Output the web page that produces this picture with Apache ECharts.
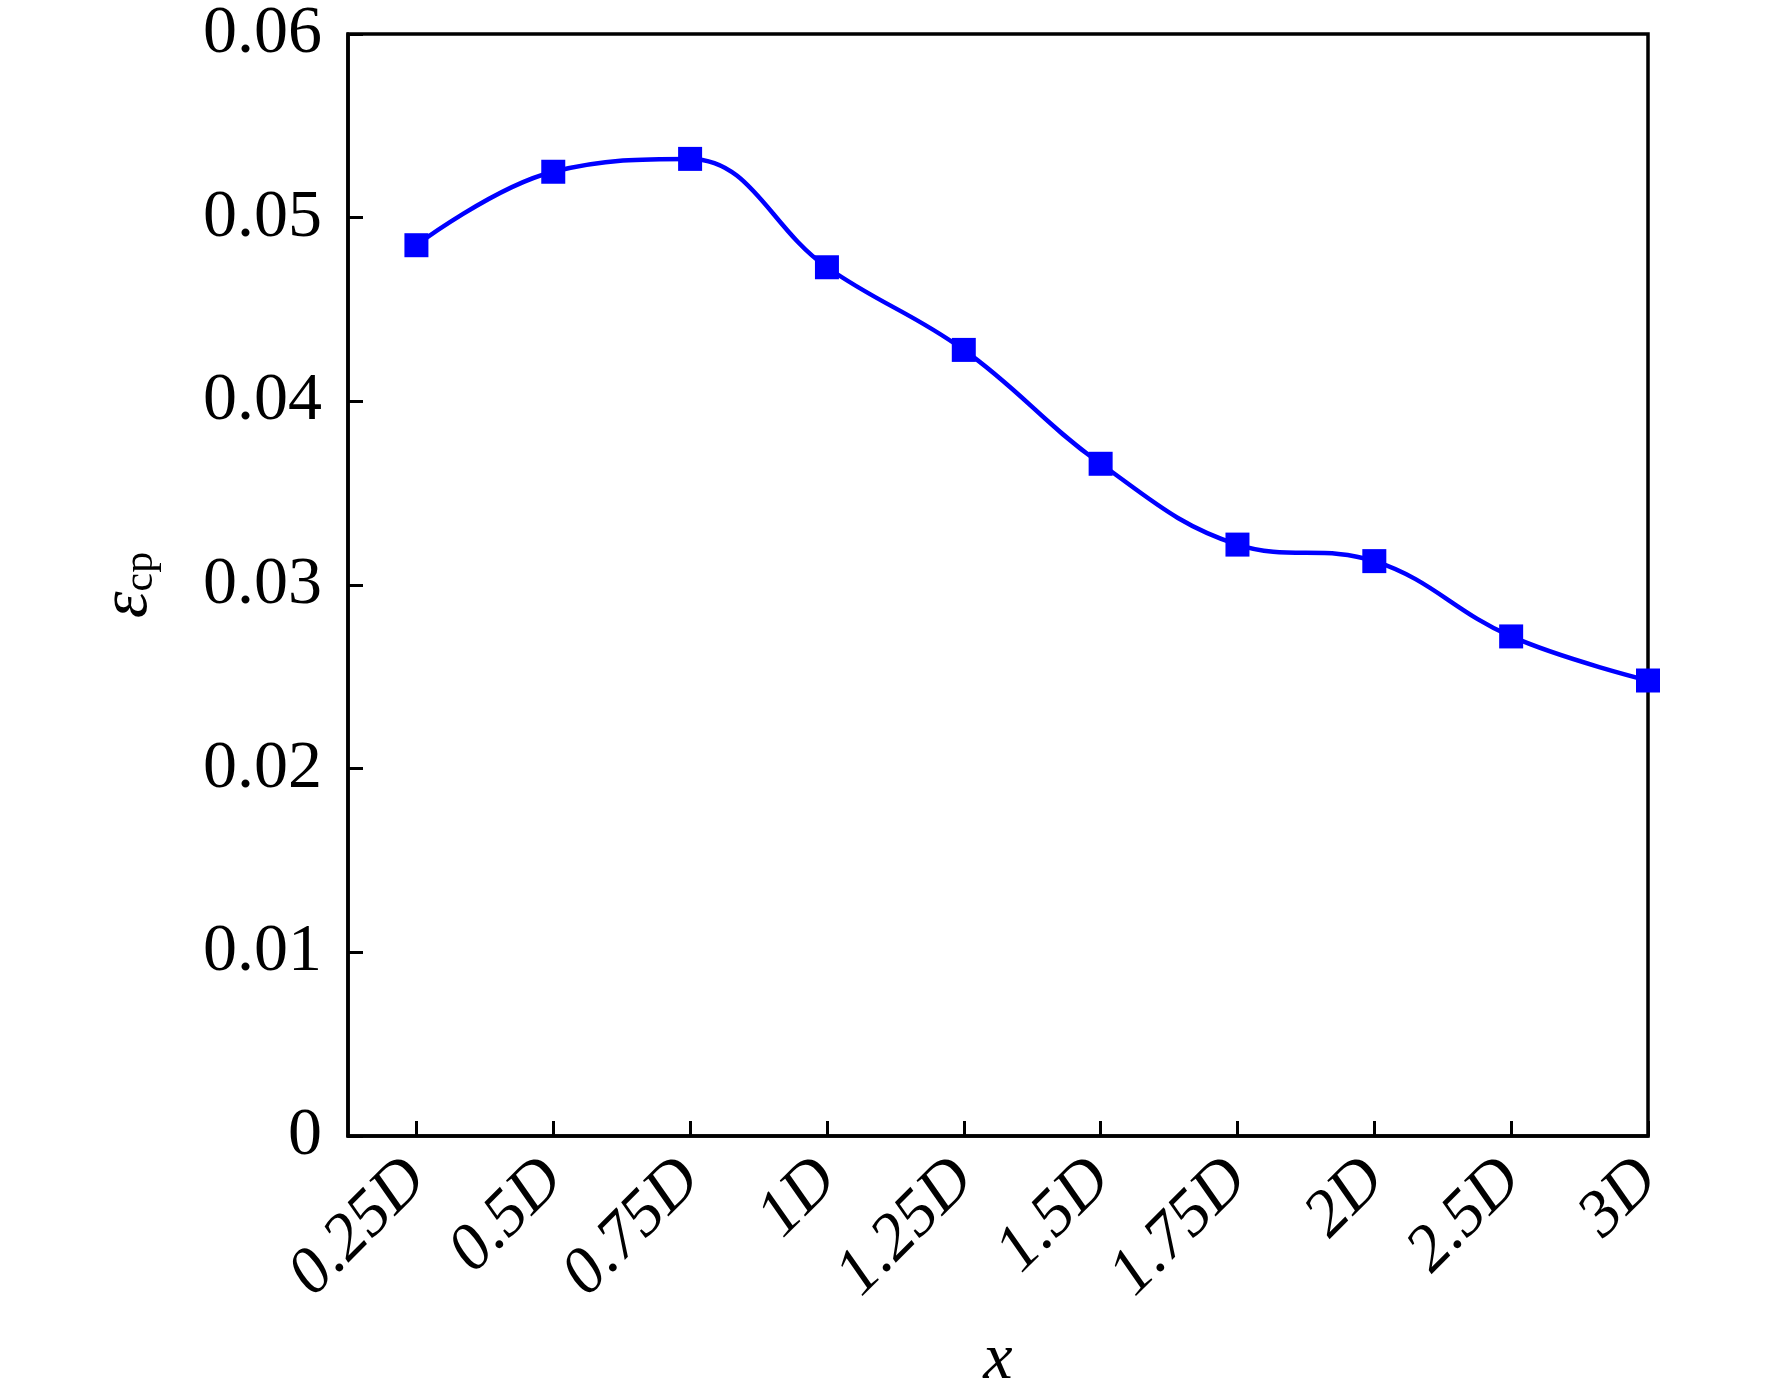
<!DOCTYPE html>
<html>
<head>
<meta charset="utf-8">
<script src="https://cdn.jsdelivr.net/npm/echarts@6/dist/echarts.min.js"></script>
<style>
  html, body { margin: 0; padding: 0; background: #fff; }
  #main { width: 1772px; height: 1399px; }
</style>
</head>
<body>
<div id="main"></div>
<script>
// distance downstream, as tick labels
const categories = ['0.25D', '0.5D', '0.75D', '1D', '1.25D', '1.5D', '1.75D', '2D', '2.5D', '3D'];
// epsilon_cp
const ecpValues = [0.0485, 0.0525, 0.0532, 0.0473, 0.0428, 0.0366, 0.0322, 0.0313, 0.0272, 0.0248];
const yTicks = [0, 0.01, 0.02, 0.03, 0.04, 0.05, 0.06];

const serif = '"Liberation Serif", "Times New Roman", serif';
const chart = echarts.init(document.getElementById('main'));

const tickIdx = categories.map(function (c, i) { return i; });

chart.setOption({
  backgroundColor: '#fff',
  animation: false,
  grid: {
    left: 348, right: 124, top: 32, bottom: 258,
    show: true, borderColor: '#000', borderWidth: 3.5, backgroundColor: 'transparent'
  },
  xAxis: {
    type: 'value',
    min: -0.5,
    max: categories.length - 1,
    name: 'x',
    nameLocation: 'middle',
    nameGap: 192,
    nameTextStyle: { fontFamily: serif, fontStyle: 'italic', fontSize: 66, color: '#000' },
    axisLine: { show: true, onZero: false, lineStyle: { color: '#000', width: 3.5 } },
    axisTick: { show: true, inside: true, length: 15, customValues: tickIdx, lineStyle: { color: '#000', width: 3 } },
    axisLabel: {
      customValues: tickIdx,
      rotate: 45,
      margin: 34,
      fontFamily: serif, fontStyle: 'italic', fontSize: 66, color: '#000',
      formatter: function (v) { return categories[Math.round(v)]; }
    },
    splitLine: { show: false }
  },
  yAxis: {
    type: 'value',
    min: yTicks[0],
    max: yTicks[yTicks.length - 1],
    interval: 0.01,
    name: '{e|ε}{s|cp}',
    nameLocation: 'middle',
    nameRotate: 90,
    nameGap: 186,
    nameTextStyle: {
      rich: {
        e: { fontFamily: serif, fontStyle: 'italic', fontSize: 68, color: '#000' },
        s: { fontFamily: serif, fontSize: 42, color: '#000', verticalAlign: 'bottom', padding: [22, 0, 0, 0] }
      }
    },
    axisLine: { show: true, onZero: false, lineStyle: { color: '#000', width: 3.5 } },
    axisTick: { show: true, inside: true, length: 15, lineStyle: { color: '#000', width: 3 } },
    axisLabel: {
      margin: 26,
      fontFamily: serif, fontSize: 68, color: '#000',
      formatter: function (v) { return v === 0 ? '0' : v.toFixed(2); }
    },
    splitLine: { show: false }
  },
  series: [{
    type: 'line',
    data: ecpValues.map(function (v, i) { return [i, v]; }),
    smooth: 0.4,
    symbol: 'rect',
    symbolSize: 24,
    lineStyle: { color: '#0000ff', width: 4.5 },
    itemStyle: { color: '#0000ff' },
    clip: true
  }]
});
</script>
</body>
</html>
